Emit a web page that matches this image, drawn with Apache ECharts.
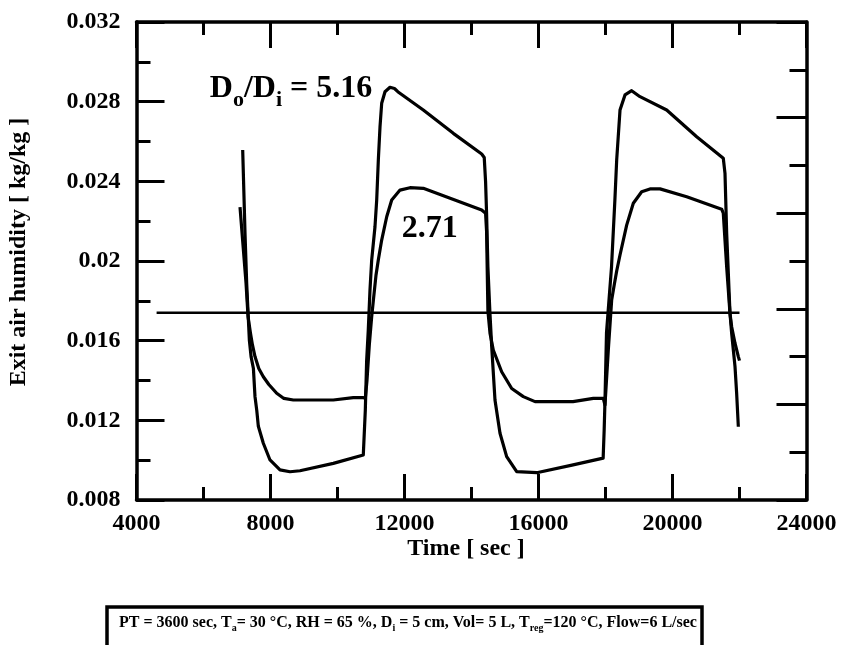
<!DOCTYPE html>
<html><head><meta charset="utf-8">
<script src="https://cdn.jsdelivr.net/npm/echarts@6/dist/echarts.min.js"></script>
<style>html,body{margin:0;padding:0;background:#fff}#c{width:841px;height:645px}</style>
</head><body><div id="c"></div>
<script>
// ---- data ----
const xTicks = [4000, 8000, 12000, 16000, 20000, 24000];
const yTicks = [0.008, 0.012, 0.016, 0.02, 0.024, 0.028, 0.032];
const rightTicks = [0, 2, 4, 6, 8, 10];

// D_o/D_i = 5.16
const timeA = [7170, 7239, 7289, 7330, 7370, 7420, 7490, 7537, 7590, 7637, 7786, 7985, 8283, 8582, 8880, 9875, 10770,
  10790, 10830, 10870, 10919, 10970, 11021, 11119, 11170, 11219, 11269, 11319, 11418, 11567, 11700, 11800, 12561, 13457, 14304,
  14380, 14420, 14450, 14490, 14550, 14603, 14701, 14851, 15050, 15349, 15946, 17000, 17930,
  17960, 17985, 18030, 18180, 18280, 18334, 18433, 18582, 18781, 19030, 19826, 20722, 21516,
  21567, 21617, 21716, 21766, 21816, 21866, 21915, 21965];
const humA = [0.02557, 0.02139, 0.01888, 0.0174, 0.0160, 0.0152, 0.0146, 0.0132, 0.0125, 0.0117, 0.01085, 0.01001, 0.00951, 0.00942, 0.00947, 0.00984, 0.01026,
  0.0103, 0.0125, 0.0150, 0.01654, 0.01855, 0.02006, 0.02172, 0.02306, 0.02507, 0.02674, 0.02792, 0.0285, 0.02872, 0.02866, 0.0285, 0.02758, 0.02641, 0.02537,
  0.0252, 0.0240, 0.0224, 0.0197, 0.0174, 0.0157, 0.01302, 0.01135, 0.01018, 0.00942, 0.00937, 0.00975, 0.0101,
  0.0115, 0.0130, 0.0164, 0.01971, 0.02306, 0.02507, 0.02758, 0.02834, 0.02855, 0.02825, 0.02758, 0.02624, 0.02516,
  0.0244, 0.02139, 0.01737, 0.01637, 0.01553, 0.0147, 0.01335, 0.01168];

// D_o/D_i = 2.71
const timeB = [7090, 7170, 7269, 7330, 7400, 7460, 7537, 7650, 7786, 7950, 8185, 8400, 8681, 9875, 10471, 10770,
  10830, 10880, 10950, 11020, 11069, 11150, 11218, 11319, 11469, 11618, 11866, 12164, 12561, 14304,
  14420, 14450, 14490, 14552, 14650, 14900, 15200, 15547, 15896, 17030, 17636, 17934,
  17985, 18084, 18184, 18260, 18334, 18433, 18632, 18830, 19080, 19328, 19627, 20424, 21468,
  21516, 21617, 21716, 21766, 21866, 21965, 22000];
const humB = [0.0227, 0.0210, 0.0189, 0.0172, 0.0164, 0.0158, 0.0152, 0.0146, 0.01419, 0.0138, 0.01336, 0.0131, 0.01302, 0.01302, 0.01314, 0.01314,
  0.0131, 0.0140, 0.0158, 0.0172, 0.0180, 0.0193, 0.02005, 0.02105, 0.02222, 0.02306, 0.02356, 0.02368, 0.02365, 0.02256,
  0.0224, 0.0215, 0.0175, 0.01638, 0.01553, 0.01444, 0.0136, 0.01319, 0.01294, 0.01294, 0.0131, 0.0131,
  0.01277, 0.01554, 0.01804, 0.01880, 0.01950, 0.02030, 0.02180, 0.0229, 0.02348, 0.02362, 0.02362, 0.02323, 0.0226,
  0.0224, 0.01971, 0.01737, 0.0167, 0.01587, 0.0152, 0.0150];

// horizontal reference line
const refT = [4600, 22000];
const refH = [0.0174, 0.0174];

// annotations (anchor: left edge, vertical middle)
const annT = [6190, 11916];
const annH = [0.02866, 0.02161];
const annText = ['{a|D}{s|o}{a|/D}{s|i}{a| = 5.16}', '{a|2.71}'];

const xTitle = 'Time [ sec ]';
const yTitle = 'Exit air humidity [ kg/kg ]';
const noteText = '{a|PT = 3600 sec, T}{s|a}{a|= 30 °C, RH = 65 %, D}{s|i}{a| = 5 cm, Vol= 5 L, T}{s|reg}{a|=120 °C, Flow=6 L/sec}';

// ---- chart ----
const FF = "'Liberation Serif','Times New Roman',serif";
const BLACK = '#000';
const zip = (a, b) => a.map((v, i) => [v, b[i]]);
const xInt = xTicks[1] - xTicks[0];
const yInt = +(yTicks[1] - yTicks[0]).toFixed(6);
const rInt = rightTicks[1] - rightTicks[0];

function xAxisCfg(pos, showLabel) {
  return {
    type: 'value', position: pos, min: xTicks[0], max: xTicks[xTicks.length - 1], interval: xInt,
    axisLine: { show: true, onZero: false, lineStyle: { color: BLACK, width: 3.5 } },
    axisTick: { show: true, inside: true, length: 26, lineStyle: { color: BLACK, width: 3 } },
    minorTick: { show: true, splitNumber: 2, length: 13, lineStyle: { color: BLACK, width: 3 } },
    axisLabel: { show: showLabel, margin: 12, color: BLACK, fontFamily: FF, fontWeight: 'bold', fontSize: 24,
      formatter: v => String(v) },
    splitLine: { show: false }, minorSplitLine: { show: false }
  };
}

const option = {
  animation: false,
  backgroundColor: '#fff',
  grid: { left: 136.5, right: 34.5, top: 22, bottom: 145, containLabel: false },
  xAxis: [xAxisCfg('bottom', true), xAxisCfg('top', false)],
  yAxis: [
    {
      type: 'value', position: 'left', min: yTicks[0], max: yTicks[yTicks.length - 1], interval: yInt,
      axisLine: { show: true, onZero: false, lineStyle: { color: BLACK, width: 3.5 } },
      axisTick: { show: true, inside: true, length: 28, lineStyle: { color: BLACK, width: 3 } },
      minorTick: { show: true, splitNumber: 2, length: 14, lineStyle: { color: BLACK, width: 3 } },
      axisLabel: { margin: 16, color: BLACK, fontFamily: FF, fontWeight: 'bold', fontSize: 24,
        formatter: v => String(+v.toFixed(3)) },
      splitLine: { show: false }
    },
    {
      type: 'value', position: 'right', min: rightTicks[0], max: rightTicks[rightTicks.length - 1], interval: rInt,
      axisLine: { show: true, onZero: false, lineStyle: { color: BLACK, width: 3.5 } },
      axisTick: { show: true, inside: true, length: 30, lineStyle: { color: BLACK, width: 3 } },
      minorTick: { show: true, splitNumber: 2, length: 17, lineStyle: { color: BLACK, width: 3 } },
      axisLabel: { show: false },
      splitLine: { show: false }
    }
  ],
  series: [
    { name: '5.16', type: 'line', xAxisIndex: 0, yAxisIndex: 0, data: zip(timeA, humA), showSymbol: false,
      lineStyle: { color: BLACK, width: 3.2, join: 'round' }, z: 3 },
    { name: '2.71', type: 'line', xAxisIndex: 0, yAxisIndex: 0, data: zip(timeB, humB), showSymbol: false,
      lineStyle: { color: BLACK, width: 3.2, join: 'round' }, z: 3 },
    { name: 'ref', type: 'line', xAxisIndex: 0, yAxisIndex: 0, data: zip(refT, refH), showSymbol: false,
      lineStyle: { color: BLACK, width: 2.6 }, z: 2 },
    { name: 'labels', type: 'scatter', xAxisIndex: 0, yAxisIndex: 0, symbolSize: 0, silent: true,
      itemStyle: { opacity: 1, color: BLACK },
      data: annT.map((t, i) => ({ value: [t, annH[i]], label: { formatter: annText[i] } })),
      label: {
        show: true, position: [0, 0], align: 'left', verticalAlign: 'middle', opacity: 1, color: BLACK,
        rich: {
          a: { fontFamily: FF, fontWeight: 'bold', fontSize: 32, lineHeight: 32, color: BLACK, opacity: 1 },
          s: { fontFamily: FF, fontWeight: 'bold', fontSize: 22, lineHeight: 22, padding: [23, 0, 0, 0], color: BLACK, opacity: 1 }
        }
      }, z: 5 }
  ],
  graphic: [
    { type: 'text', x: 18.5, y: 252, rotation: Math.PI / 2,
      style: { text: yTitle, fontFamily: FF, fontWeight: 'bold', fontSize: 24, fill: BLACK, align: 'center', verticalAlign: 'middle' } },
    { type: 'text', x: 466, y: 549,
      style: { text: xTitle, fontFamily: FF, fontWeight: 'bold', fontSize: 24, fill: BLACK, align: 'center', verticalAlign: 'middle' } },
    { type: 'rect', shape: { x: 107, y: 607, width: 595, height: 70 },
      style: { fill: 'none', stroke: BLACK, lineWidth: 3.5 } },
    { type: 'text', x: 119, y: 623,
      style: { text: noteText, align: 'left', verticalAlign: 'middle', fill: BLACK,
        rich: {
          a: { fontFamily: FF, fontWeight: 'bold', fontSize: 16, lineHeight: 16, fill: BLACK },
          s: { fontFamily: FF, fontWeight: 'bold', fontSize: 10, lineHeight: 10, padding: [11, 0, 0, 0], fill: BLACK }
        } } }
  ]
};
const chart = echarts.init(document.getElementById('c'), null, { renderer: 'canvas' });
chart.setOption(option);
</script></body></html>
